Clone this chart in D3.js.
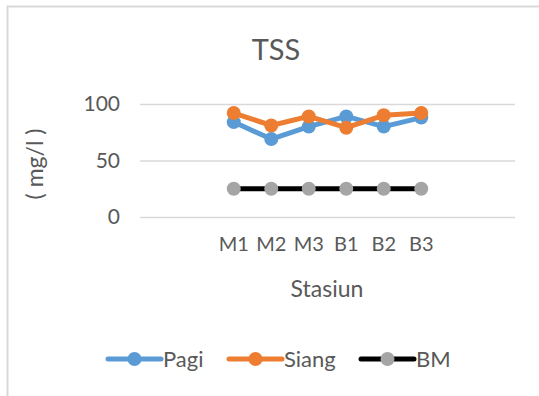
<!DOCTYPE html>
<html>
<head>
<meta charset="utf-8">
<script src="https://cdn.jsdelivr.net/npm/d3@7"></script>
<style>
  html, body { margin: 0; padding: 0; background: #fff; }
  svg { display: block; }
  text { font-family: Lato, "Open Sans", sans-serif; fill: #595959; }
</style>
</head>
<body>
<svg id="chart" width="539" height="396"></svg>
<script>
// Category slots on the x axis (blank slots pad both sides)
const categories = ["pad1", "pad2", "M1", "M2", "M3", "B1", "B2", "B3", "pad3", "pad4"];
const stations = ["M1", "M2", "M3", "B1", "B2", "B3"];
// TSS values (mg/l)
const pagi  = [84, 69, 80, 89, 80, 88];
const siang = [92, 81, 89, 79, 90, 92];
const bm    = [25, 25, 25, 25, 25, 25];
const yTicks = [0, 50, 100];

const seriesList = [
  { name: "Pagi",  values: pagi,  line: "#5b9bd5", dot: "#5b9bd5" },
  { name: "Siang", values: siang, line: "#ed7d31", dot: "#ed7d31" },
  { name: "BM",    values: bm,    line: "#000000", dot: "#a5a5a5" }
];

const svg = d3.select("#chart");
const W = 539, H = 396;

// chart frame
svg.append("path")
  .attr("d", `M7.5,${H} V6.5 H${W}`)
  .attr("fill", "none").attr("stroke", "#d9d9d9").attr("stroke-width", 2);

const plot = { left: 140, right: 515, top: 104, bottom: 217 };

const x = d3.scaleBand().domain(categories).range([plot.left, plot.right]);
const y = d3.scaleLinear().domain([0, 100]).range([plot.bottom, plot.top]);

// title
svg.append("text").attr("x", 276).attr("y", 60)
  .attr("text-anchor", "middle").style("font-size", "29px").text("TSS");

// grid lines + y tick labels
const yAxis = d3.axisLeft(y).tickValues(yTicks).tickSize(-(plot.right - plot.left)).tickPadding(20);
const gy = svg.append("g").attr("transform", `translate(${plot.left},0)`).call(yAxis);
gy.select(".domain").remove();
gy.selectAll(".tick line").attr("stroke", "#d9d9d9").attr("stroke-width", 1.3);
gy.selectAll(".tick text").style("font-size", "21px").attr("fill", "#595959")
  .style("font-family", "Lato, 'Open Sans', sans-serif");

// x axis labels
const xAxis = d3.axisBottom(x).tickValues(stations).tickSize(0).tickPadding(20);
const gx = svg.append("g").attr("transform", `translate(0,${plot.bottom})`).call(xAxis);
gx.select(".domain").remove();
gx.selectAll(".tick text").style("font-size", "20px").attr("fill", "#595959")
  .style("font-family", "Lato, 'Open Sans', sans-serif");

// axis titles
svg.append("text").attr("x", 327).attr("y", 297)
  .attr("text-anchor", "middle").style("font-size", "23px").text("Stasiun");
svg.append("text")
  .attr("transform", "translate(43,164) rotate(-90)")
  .attr("text-anchor", "middle").style("font-size", "23px").text("( mg/l )");

const cx = (i) => x(stations[i]) + x.bandwidth() / 2;
const line = d3.line().x((d, i) => cx(i)).y(d => y(d));

// series: BM first, then Pagi, then Siang on top
const order = [seriesList[2], seriesList[0], seriesList[1]];
order.forEach(s => {
  const g = svg.append("g");
  g.append("path").datum(s.values).attr("d", line)
    .attr("fill", "none").attr("stroke", s.line).attr("stroke-width", 5)
    .attr("stroke-linejoin", "round");
  g.selectAll("circle").data(s.values).join("circle")
    .attr("cx", (d, i) => cx(i)).attr("cy", d => y(d)).attr("r", 7)
    .attr("fill", s.dot);
});

// legend
const legendX = [106, 227, 359];
const legendY = 359;
seriesList.forEach((s, i) => {
  const g = svg.append("g").attr("transform", `translate(${legendX[i]},${legendY})`);
  g.append("line").attr("x1", 2).attr("x2", 55).attr("y1", 0).attr("y2", 0)
    .attr("stroke", s.line).attr("stroke-width", 5).attr("stroke-linecap", "round");
  g.append("circle").attr("cx", 28.5).attr("cy", 0).attr("r", 7).attr("fill", s.dot);
  g.append("text").attr("x", 57).attr("y", 7.5).style("font-size", "22px").text(s.name);
});
</script>
</body>
</html>
